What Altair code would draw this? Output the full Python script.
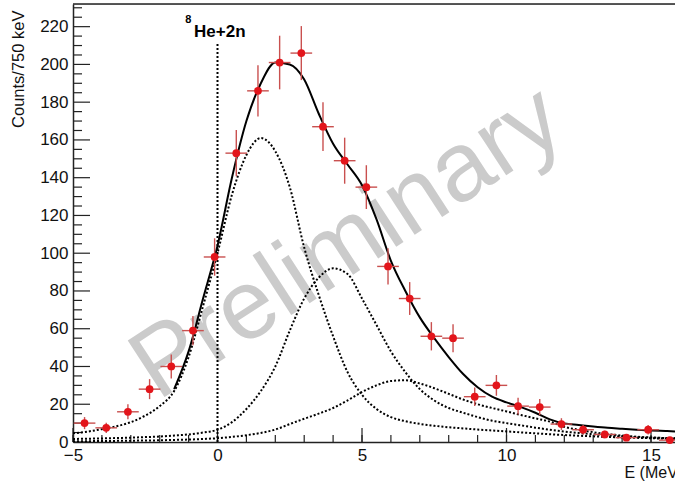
import altair as alt
import pandas as pd

# ---------------- data ----------------
E_pts = [-4.6, -3.85, -3.1, -2.35, -1.6, -0.85, -0.1, 0.65, 1.4, 2.15, 2.9, 3.65,
         4.4, 5.15, 5.9, 6.65, 7.4, 8.15, 8.9, 9.65, 10.4, 11.15, 11.9, 12.65,
         13.4, 14.15, 14.9, 15.65]
counts = [10, 7.5, 16, 28, 40, 59, 98, 153, 186, 201, 206, 167,
          149, 135, 93, 76, 56, 55, 24, 30, 19, 18.5, 9.5, 6.5,
          4, 2.3, 6.5, 1]
errs = [3.2, 2.7, 4, 5.3, 6.3, 7.7, 9.9, 12.3, 13.6, 14.2, 14.3, 12.9,
        12.2, 11.6, 9.6, 8.7, 7.5, 7.4, 4.9, 5.5, 4.4, 4.3, 3.1, 2.5,
        2, 1.5, 2.5, 1]
half_bin = 0.375  # 750 keV bins

grid = [-5, -4.5, -4, -3.5, -3, -2.5, -2, -1.5, -1, -0.5, 0, 0.5, 1, 1.5, 2, 2.5,
        3, 3.5, 4, 4.5, 5, 5.5, 6, 6.5, 7, 7.5, 8, 8.5, 9, 9.5, 10, 10.5, 11,
        11.5, 12, 12.5, 13, 13.5, 14, 14.5, 15, 15.5, 15.83]

total_E = grid[7:]
total_fit = [28, 48, 76, 104, 140, 170, 190, 201, 200, 192, 174, 158, 147, 136,
             118, 96, 80, 66, 55, 45, 36, 29, 24, 21, 18.5, 15.5, 12, 9.8, 9,
             8.2, 7.5, 7, 6.5, 6.1, 5.8, 5.6]

comp1 = [4.6, 5.5, 6.8, 8.3, 10.5, 14, 19, 27, 45, 72, 100, 131, 152, 161, 154,
         135, 103, 78, 56, 37, 25, 17.5, 13.2, 11, 9.6, 8.6, 7.8, 7.2, 6.6, 6.1,
         5.6, 5.1, 4.6, 4.1, 3.7, 3.3, 3, 2.7, 2.4, 2.2, 2, 1.8, 1.7]
comp2 = [1.6, 1.75, 1.9, 2.1, 2.3, 2.6, 2.9, 3.4, 4, 5, 6.5, 10.5, 17.5, 27, 40,
         59, 76, 87, 92, 89, 76, 62, 48, 37, 28, 22, 18, 15.5, 13.2, 11.3, 10,
         8.8, 7.6, 6.5, 5.5, 4.8, 4.1, 3.5, 3, 2.6, 2.3, 2.1, 2]
comp3 = [0.4, 0.45, 0.5, 0.6, 0.7, 0.8, 0.9, 1.1, 1.3, 1.6, 2, 2.7, 3.6, 4.8,
         6.6, 9.5, 12.3, 15, 18, 22, 26.5, 30, 32.3, 32.7, 31, 28.5, 25.5, 22.5,
         20, 18, 16.2, 14.3, 12.5, 10.8, 8, 6.5, 5.2, 4.2, 3.4, 2.8, 2.4, 2.1, 2]

threshold_E = 0
threshold_top = 211

x_major = [-5, 0, 5, 10, 15]
x_minor = list(range(-5, 16))
y_major = list(range(0, 221, 20))
y_minor = [v for v in range(0, 231, 5) if v % 20 != 0]

label_main = "He+2n"
label_sup = "8"
watermark = "Preliminary"

# ---------------- tables ----------------
pts = pd.DataFrame({"E": E_pts, "N": counts, "err": errs})
total_df = pd.DataFrame({"E": total_E, "v": total_fit})
comp_df = pd.concat([
    pd.DataFrame({"E": grid, "v": comp1, "c": "c1"}),
    pd.DataFrame({"E": grid, "v": comp2, "c": "c2"}),
    pd.DataFrame({"E": grid, "v": comp3, "c": "c3"}),
])
thr_df = pd.DataFrame({"E": [threshold_E], "y0": [0], "y1": [threshold_top]})
xmaj_df = pd.DataFrame({"t": x_major})
xmin_df = pd.DataFrame({"t": x_minor})
ymaj_df = pd.DataFrame({"t": y_major})
ymin_df = pd.DataFrame({"t": y_minor})
lab_df = pd.DataFrame({"E": [-0.81], "y": [214.7], "txt": [label_main]})
sup_df = pd.DataFrame({"E": [-1.12], "y": [222], "txt": [label_sup]})
wm_df = pd.DataFrame({"E": [4.5], "y": [105], "txt": [watermark]})

FONT = "Liberation Sans"
W, H = 602, 438

xscale = alt.Scale(domain=[-5, 15.83], nice=False, zero=False)
yscale = alt.Scale(domain=[0, 232], nice=False, zero=False)

xaxis = alt.Axis(values=x_major, tickSize=0, labelPadding=5, labelFontSize=17,
                 labelFont=FONT, labelColor="#111", domainColor="#222",
                 domainWidth=1.5, grid=False, format="d", title="E (MeV)",
                 titleFont=FONT, titleFontSize=16, titleFontWeight="normal",
                 titleColor="#111", titleX=551, titleY=35, titleAlign="left",
                 titleBaseline="alphabetic", labelFlush=False)
yaxis = alt.Axis(values=y_major, tickSize=0, labelPadding=5, labelFontSize=17,
                 labelFont=FONT, labelColor="#111", domainColor="#222",
                 domainWidth=1.5, grid=False, format="d", title="Counts/750 keV",
                 titleFont=FONT, titleFontSize=16.5, titleFontWeight="normal",
                 titleColor="#111", titleAngle=270, titleX=-55, titleY=6,
                 titleAlign="right", titleBaseline="middle", labelFlush=False)


def X(field, **kw):
    return alt.X(field, type="quantitative", scale=xscale, axis=xaxis, **kw)


def Y(field, **kw):
    return alt.Y(field, type="quantitative", scale=yscale, axis=yaxis, **kw)


wm = alt.Chart(wm_df).mark_text(
    font=FONT, fontSize=98, color="#cbcbcb", angle=327, align="center",
    baseline="middle"
).encode(x=X("E"), y=Y("y"), text="txt:N")

ymaj = alt.Chart(ymaj_df).mark_rule(color="#222", strokeWidth=1.2).encode(
    y=Y("t"), x=alt.value(0), x2=alt.value(17))
ymin = alt.Chart(ymin_df).mark_rule(color="#222", strokeWidth=1.2).encode(
    y=Y("t"), x=alt.value(0), x2=alt.value(9))
xmaj = alt.Chart(xmaj_df).mark_rule(color="#222", strokeWidth=1.2).encode(
    x=X("t"), y=alt.value(H), y2=alt.value(H - 14))
xmin = alt.Chart(xmin_df).mark_rule(color="#222", strokeWidth=1.2).encode(
    x=X("t"), y=alt.value(H), y2=alt.value(H - 7))

comps = alt.Chart(comp_df).mark_line(
    color="black", strokeWidth=2, strokeDash=[2, 2], interpolate="monotone"
).encode(x=X("E"), y=Y("v"), detail="c:N")

total = alt.Chart(total_df).mark_line(
    color="black", strokeWidth=2, interpolate="monotone"
).encode(x=X("E"), y=Y("v"))

thr = alt.Chart(thr_df).mark_rule(
    color="black", strokeWidth=2, strokeDash=[2, 2]
).encode(x=X("E"), y=Y("y0"), y2="y1")

base_pts = alt.Chart(pts).transform_calculate(
    lo="datum.N - datum.err", hi="datum.N + datum.err",
    xl=f"datum.E - {half_bin}", xr=f"datum.E + {half_bin}")

vbar = base_pts.mark_rule(color="#c9504f", strokeWidth=1.4).encode(
    x=X("E"), y=Y("lo"), y2="hi")
hbar = base_pts.mark_rule(color="#c9504f", strokeWidth=1.4).encode(
    x=X("xl"), x2="xr", y=Y("N"))
dots = base_pts.mark_circle(color="#e3151b", size=60, opacity=1).encode(
    x=X("E"), y=Y("N"))

frame_top = alt.Chart(pd.DataFrame({"a": [0]})).mark_rule(
    color="#222", strokeWidth=1.5
).encode(x=alt.X(datum=-5, scale=xscale, axis=xaxis),
         x2=alt.X2(datum=15.83), y=alt.Y(datum=232, scale=yscale, axis=yaxis))

lab = alt.Chart(lab_df).mark_text(
    font=FONT, fontSize=17, fontWeight="bold", color="black", align="left",
    baseline="alphabetic"
).encode(x=X("E"), y=Y("y"), text="txt:N")
sup = alt.Chart(sup_df).mark_text(
    font=FONT, fontSize=11, fontWeight="bold", color="black", align="left",
    baseline="alphabetic"
).encode(x=X("E"), y=Y("y"), text="txt:N")

chart = alt.layer(
    wm, ymaj, ymin, xmaj, xmin, comps, thr, total, vbar, hbar, dots,
    frame_top, lab, sup
).properties(
    width=W, height=H,
    padding={"left": 73, "top": 4, "right": 0, "bottom": 46},
    autosize=alt.AutoSizeParams(type="none"),
).configure_view(stroke=None).configure(background="white")

chart.save("out.html", embed_options={"renderer": "svg", "actions": False})
